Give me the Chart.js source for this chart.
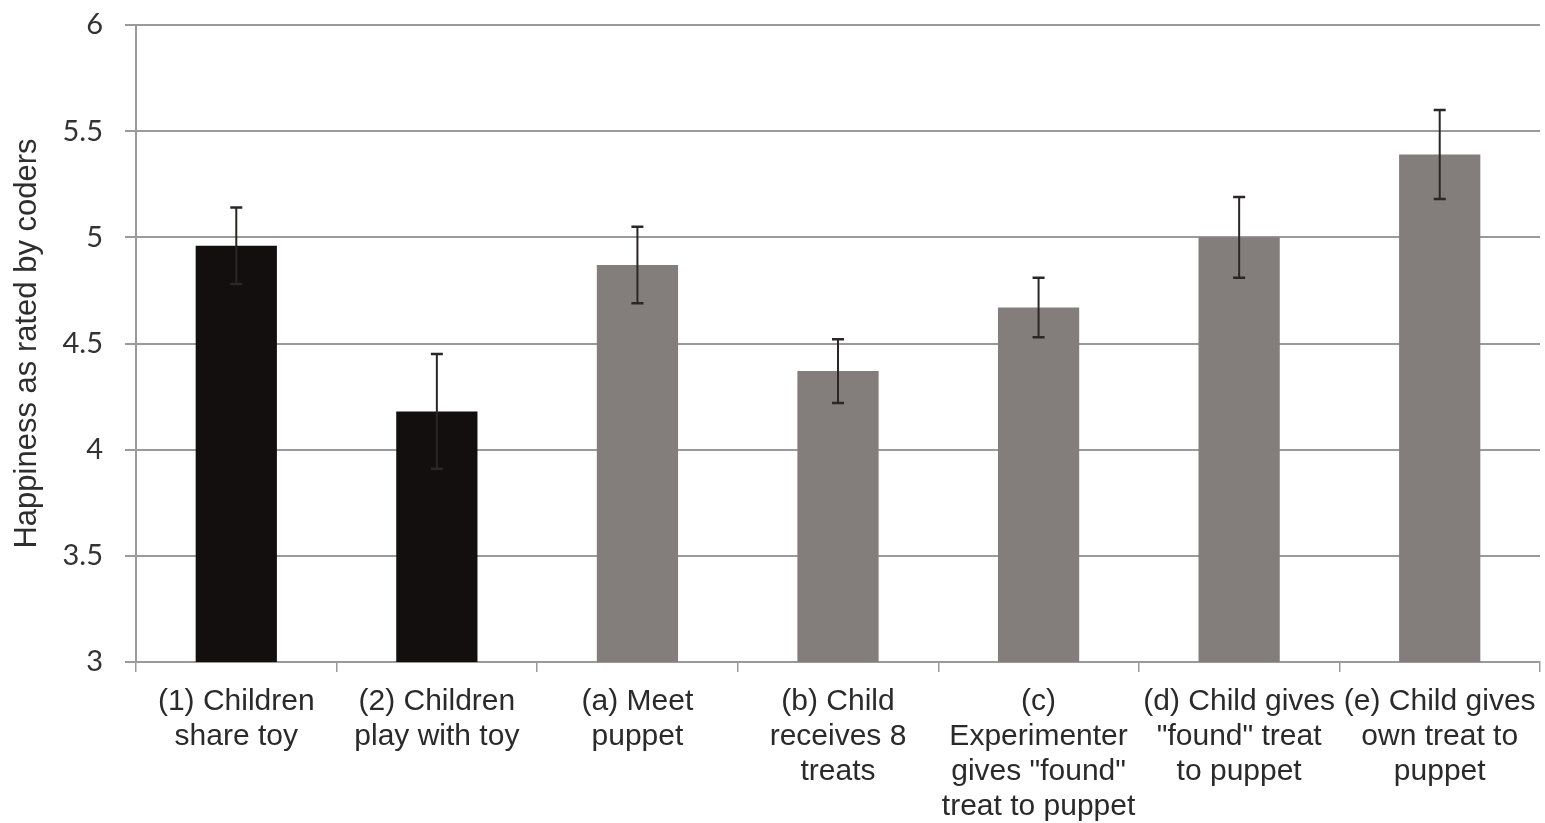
<!DOCTYPE html>
<html>
<head>
<meta charset="utf-8">
<script src="https://cdn.jsdelivr.net/npm/chart.js@4/dist/chart.umd.min.js"></script>
<style>
  html, body { margin: 0; padding: 0; background: #ffffff; }
  #wrap { width: 1545px; height: 823px; }
</style>
</head>
<body>
<div id="wrap"><canvas id="c" width="1545" height="823"></canvas></div>
<script>
// Conditions shown along the x axis (each entry is a list of label lines)
const categories = [
  ["(1) Children", "share toy"],
  ["(2) Children", "play with toy"],
  ["(a) Meet", "puppet"],
  ["(b) Child", "receives 8", "treats"],
  ["(c)", "Experimenter", "gives \"found\"", "treat to puppet"],
  ["(d) Child gives", "\"found\" treat", "to puppet"],
  ["(e) Child gives", "own treat to", "puppet"]
];
// Mean happiness rating per condition
const meanHappiness = [4.96, 4.18, 4.87, 4.37, 4.67, 5.00, 5.39];
// Standard error of each mean (drawn as symmetric error bars)
const standardError = [0.18, 0.27, 0.18, 0.15, 0.14, 0.19, 0.21];
// Bar fill per condition: the two study-1 conditions in black, study-2 in grey
const barColors = ["#120f0e", "#120f0e", "#837e7c", "#837e7c", "#837e7c", "#837e7c", "#837e7c"];
// Y axis range and tick step
const yMin = 3, yMax = 6, yStep = 0.5;

const errorBarPlugin = {
  id: 'errorBars',
  afterDatasetsDraw(chart) {
    const ctx = chart.ctx;
    const yScale = chart.scales.y;
    const meta = chart.getDatasetMeta(0);
    ctx.save();
    ctx.strokeStyle = '#2b2726';
    meta.data.forEach((bar, i) => {
      const v = meanHappiness[i], e = standardError[i];
      const yTop = yScale.getPixelForValue(v + e);
      const yBot = yScale.getPixelForValue(v - e);
      const x = bar.x;
      ctx.lineWidth = 2;
      ctx.beginPath();
      ctx.moveTo(x, yTop);
      ctx.lineTo(x, yBot);
      ctx.stroke();
      ctx.lineWidth = 2.5;
      ctx.beginPath();
      ctx.moveTo(x - 6, yTop); ctx.lineTo(x + 6, yTop);
      ctx.moveTo(x - 6, yBot); ctx.lineTo(x + 6, yBot);
      ctx.stroke();
    });
    ctx.restore();
  }
};

new Chart(document.getElementById('c'), {
  type: 'bar',
  data: {
    labels: categories,
    datasets: [{
      data: meanHappiness,
      backgroundColor: barColors,
      borderWidth: 0,
      barPercentage: 0.405,
      categoryPercentage: 1.0
    }]
  },
  options: {
    responsive: false,
    animation: false,
    devicePixelRatio: 1,
    layout: { padding: { top: 25, right: 5, bottom: 0, left: 0 } },
    plugins: {
      legend: { display: false },
      tooltip: { enabled: false }
    },
    scales: {
      x: {
        afterFit(scale) {
          scale.height = 161;
          scale.paddingLeft = 0; scale.paddingRight = 0;
          scale.paddingTop = 0; scale.paddingBottom = 0;
        },
        grid: {
          drawOnChartArea: false,
          drawTicks: true,
          tickLength: 10,
          color: '#9a9a9a',
          lineWidth: 1.5,
          offset: true
        },
        border: { display: true, color: '#9a9a9a', width: 2 },
        ticks: {
          autoSkip: false,
          maxRotation: 0,
          minRotation: 0,
          padding: 12,
          color: '#2a2a2a',
          font: { family: "'Liberation Sans', Arial, sans-serif", size: 30, lineHeight: 1.1667 }
        }
      },
      y: {
        min: yMin,
        max: yMax,
        afterFit(scale) {
          scale.width = 136;
          scale.paddingTop = 0; scale.paddingBottom = 0;
          scale.paddingLeft = 0; scale.paddingRight = 0;
        },
        afterBuildTicks(scale) {
          const t = [];
          for (let v = yMin; v <= yMax + 1e-9; v += yStep) t.push({ value: Math.round(v * 10) / 10 });
          scale.ticks = t;
        },
        grid: {
          color: '#9a9a9a',
          lineWidth: 2,
          drawTicks: true,
          tickLength: 11
        },
        border: { display: true, color: '#9a9a9a', width: 2 },
        ticks: {
          stepSize: yStep,
          padding: 22,
          color: '#333333',
          font: { family: "Lato, 'Open Sans', sans-serif", size: 29 },
          callback: (v) => String(v)
        },
        title: {
          display: true,
          text: 'Happiness as rated by coders',
          color: '#2e2e2e',
          padding: { top: 9, bottom: 0 },
          font: { family: "'Liberation Sans', Arial, sans-serif", size: 31 }
        }
      }
    }
  },
  plugins: [errorBarPlugin]
});
</script>
</body>
</html>
